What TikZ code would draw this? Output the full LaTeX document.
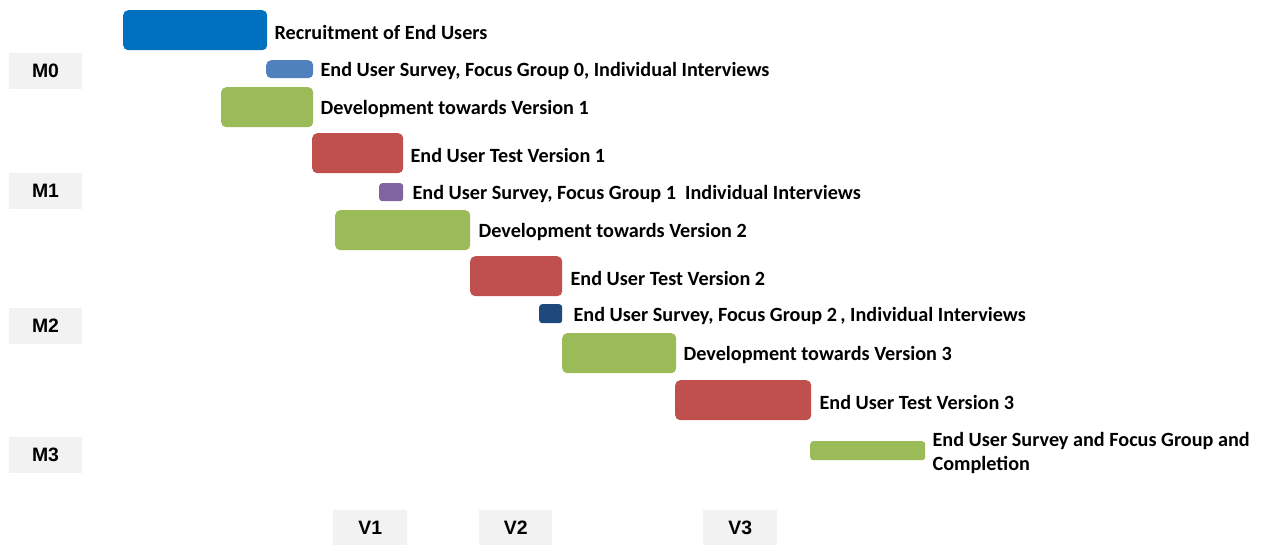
\documentclass[tikz,border=0pt]{standalone}
\usepackage{fontspec}
\setmainfont{Carlito}
\newfontfamily\markfont{Liberation Sans}
\usetikzlibrary{positioning}
\definecolor{recblue}{HTML}{0070C0}
\definecolor{survblue}{HTML}{4F81BD}
\definecolor{devgreen}{HTML}{9BBB59}
\definecolor{testred}{HTML}{C0504D}
\definecolor{survpurple}{HTML}{8064A2}
\definecolor{navy}{HTML}{1F497D}
\definecolor{markgrey}{HTML}{F2F2F2}
\tikzset{
  bar/.style={rectangle, rounded corners=5pt, anchor=north west, inner sep=0pt, draw=none},
  barlabel/.style={inner sep=0pt, yshift=-2pt, font=\fontsize{20.2}{24}\selectfont\bfseries, align=left},
  milestone/.style={rectangle, fill=markgrey, minimum width=73pt, minimum height=36pt, inner sep=0pt, font=\markfont\fontsize{19.4}{22}\selectfont\bfseries},
}

\begin{document}
\begin{tikzpicture}[x=1pt, y=-1pt]
\useasboundingbox (0,0) rectangle (1265,545);
\fill[white] (0,0) rectangle (1265,545);
% milestones down the left
\node[milestone] (m0) at (45.5,71) {M0};
\node[milestone] (m1) at (45.5,191) {M1};
\node[milestone] (m2) at (45.5,326) {M2};
\node[milestone] (m3) at (45.5,455) {M3};
% versions along the bottom
\node[milestone, minimum width=74pt, minimum height=35pt, anchor=north west] (v1) at (333,510) {V1};
\node[milestone, minimum width=73pt, minimum height=35pt, anchor=north west] (v2) at (479,510) {V2};
\node[milestone, minimum width=74pt, minimum height=35pt, anchor=north west] (v3) at (703,510) {V3};
% tasks
\node[bar, fill=recblue, minimum width=144pt, minimum height=40pt] (recruit) at (123,10) {};
\node[barlabel, right=7pt of recruit] (recruitlbl) {Recruitment of End Users};
\node[bar, fill=survblue, minimum width=47pt, minimum height=18pt] (survey0) at (266,60) {};
\node[barlabel, right=7pt of survey0] (survey0lbl) {End User Survey, Focus Group 0, Individual Interviews};
\node[bar, fill=devgreen, minimum width=92pt, minimum height=40pt] (dev1) at (221,87) {};
\node[barlabel, right=7pt of dev1] (dev1lbl) {Development towards Version 1};
\node[bar, fill=testred, minimum width=91pt, minimum height=40pt] (test1) at (312,133) {};
\node[barlabel, right=7pt of test1] (test1lbl) {End User Test Version 1};
\node[bar, rounded corners=3pt, fill=survpurple, minimum width=24pt, minimum height=18pt] (survey1) at (379,183) {};
\node[barlabel, right=9pt of survey1] (survey1lbl) {End User Survey, Focus Group 1\ \ Individual Interviews};
\node[bar, fill=devgreen, minimum width=135pt, minimum height=40pt] (dev2) at (335,210) {};
\node[barlabel, right=8pt of dev2] (dev2lbl) {Development towards Version 2};
\node[bar, fill=testred, minimum width=92pt, minimum height=40pt] (test2) at (470,256) {};
\node[barlabel, right=8pt of test2] (test2lbl) {End User Test Version 2};
\node[bar, rounded corners=3pt, fill=navy, minimum width=23pt, minimum height=19pt] (survey2) at (539,304) {};
\node[barlabel, right=11pt of survey2] (survey2lbl) {End User Survey, Focus Group 2\,, Individual Interviews};
\node[bar, fill=devgreen, minimum width=114pt, minimum height=40pt] (dev3) at (562,333) {};
\node[barlabel, right=7pt of dev3] (dev3lbl) {Development towards Version 3};
\node[bar, fill=testred, minimum width=136pt, minimum height=40pt] (test3) at (675,380) {};
\node[barlabel, right=8pt of test3] (test3lbl) {End User Test Version 3};
\node[bar, rounded corners=3pt, fill=devgreen, minimum width=115pt, minimum height=19pt] (finish) at (810,441) {};
\node[barlabel, right=7pt of finish] (finishlbl) {End User Survey and Focus Group and\\Completion};
\end{tikzpicture}
\end{document}
